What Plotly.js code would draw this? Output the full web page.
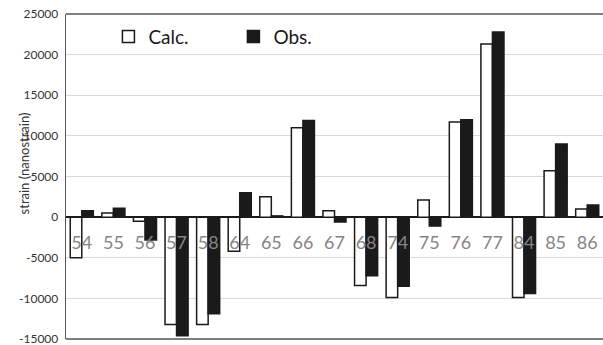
<!DOCTYPE html>
<html>
<head>
<meta charset="utf-8">
<script src="https://cdn.plot.ly/plotly-3.0.1.min.js"></script>
<style>html,body{margin:0;padding:0;overflow:hidden;background:#fff;}#chart{width:603px;height:345px;}</style>
</head>
<body>
<div id="chart"></div>
<script>
const categories = ["54","55","56","57","58","64","65","66","67","68","74","75","76","77","84","85","86"];
const calcValues = [-5000, 500, -500, -13200, -13200, -4200, 2500, 11000, 800, -8400, -9900, 2100, 11700, 21300, -9900, 5700, 1000];
const obsValues  = [800, 1100, -2800, -14600, -11900, 3000, 150, 11900, -600, -7200, -8500, -1100, 12000, 22800, -9400, 9000, 1500];
const yTicks = [-15000, -10000, -5000, 0, 5000, 10000, 15000, 20000, 25000];

const FONT = "Lato, 'Open Sans', sans-serif";

const traces = [
  {type: "bar", name: "Calc.", x: categories, y: calcValues,
   marker: {color: "#ffffff", line: {color: "#1a1a1a", width: 1.5}}},
  {type: "bar", name: "Obs.", x: categories, y: obsValues,
   marker: {color: "#1a1a1a", line: {color: "#1a1a1a", width: 1.5}}}
];

const layout = {
  width: 603, height: 345,
  margin: {l: 66, r: 0, t: 14, b: 6},
  paper_bgcolor: "#fff", plot_bgcolor: "#fff",
  barmode: "group", bargap: 0.27, bargroupgap: 0,
  font: {family: FONT, color: "#333"},
  showlegend: true,
  legend: {orientation: "h", x: 0.079, y: 0.93, xanchor: "left", yanchor: "middle",
           font: {family: FONT, size: 19, color: "#1a1a1a"},
           entrywidth: 80, entrywidthmode: "pixels", bgcolor: "rgba(0,0,0,0)"},
  xaxis: {type: "category", anchor: "free", position: 0.375,
          showgrid: false, zeroline: false, showline: false,
          ticks: "outside", ticklen: 9, tickcolor: "rgba(0,0,0,0)",
          tickfont: {family: FONT, size: 18, color: "#858585"}, fixedrange: true},
  yaxis: {range: [-15000, 25000], tickvals: yTicks, ticktext: yTicks.map(String),
          showgrid: true, gridcolor: "#d9d9d9", gridwidth: 1,
          zeroline: true, zerolinecolor: "#1a1a1a", zerolinewidth: 1.6,
          showline: true, linecolor: "#555", linewidth: 1.3,
          ticks: "outside", ticklen: 4, tickcolor: "rgba(0,0,0,0)",
          ticklabeloverflow: "allow",
          tickfont: {family: FONT, size: 12, color: "#333"}, fixedrange: true},
  shapes: [
    {type: "line", xref: "paper", yref: "paper", x0: 0, x1: 1, y0: 1, y1: 1, line: {color: "#555", width: 1.3}},
    {type: "line", xref: "paper", yref: "paper", x0: 0, x1: 1, y0: 0, y1: 0, line: {color: "#555", width: 1.3}}
  ],
  annotations: [
    {text: "strain (nanostrain)", xref: "paper", yref: "paper", x: -0.097, y: 0.54,
     textangle: -90, showarrow: false, font: {family: FONT, size: 13, color: "#333"}}
  ]
};

Plotly.newPlot("chart", traces, layout, {staticPlot: true, displayModeBar: false});
</script>
</body>
</html>
